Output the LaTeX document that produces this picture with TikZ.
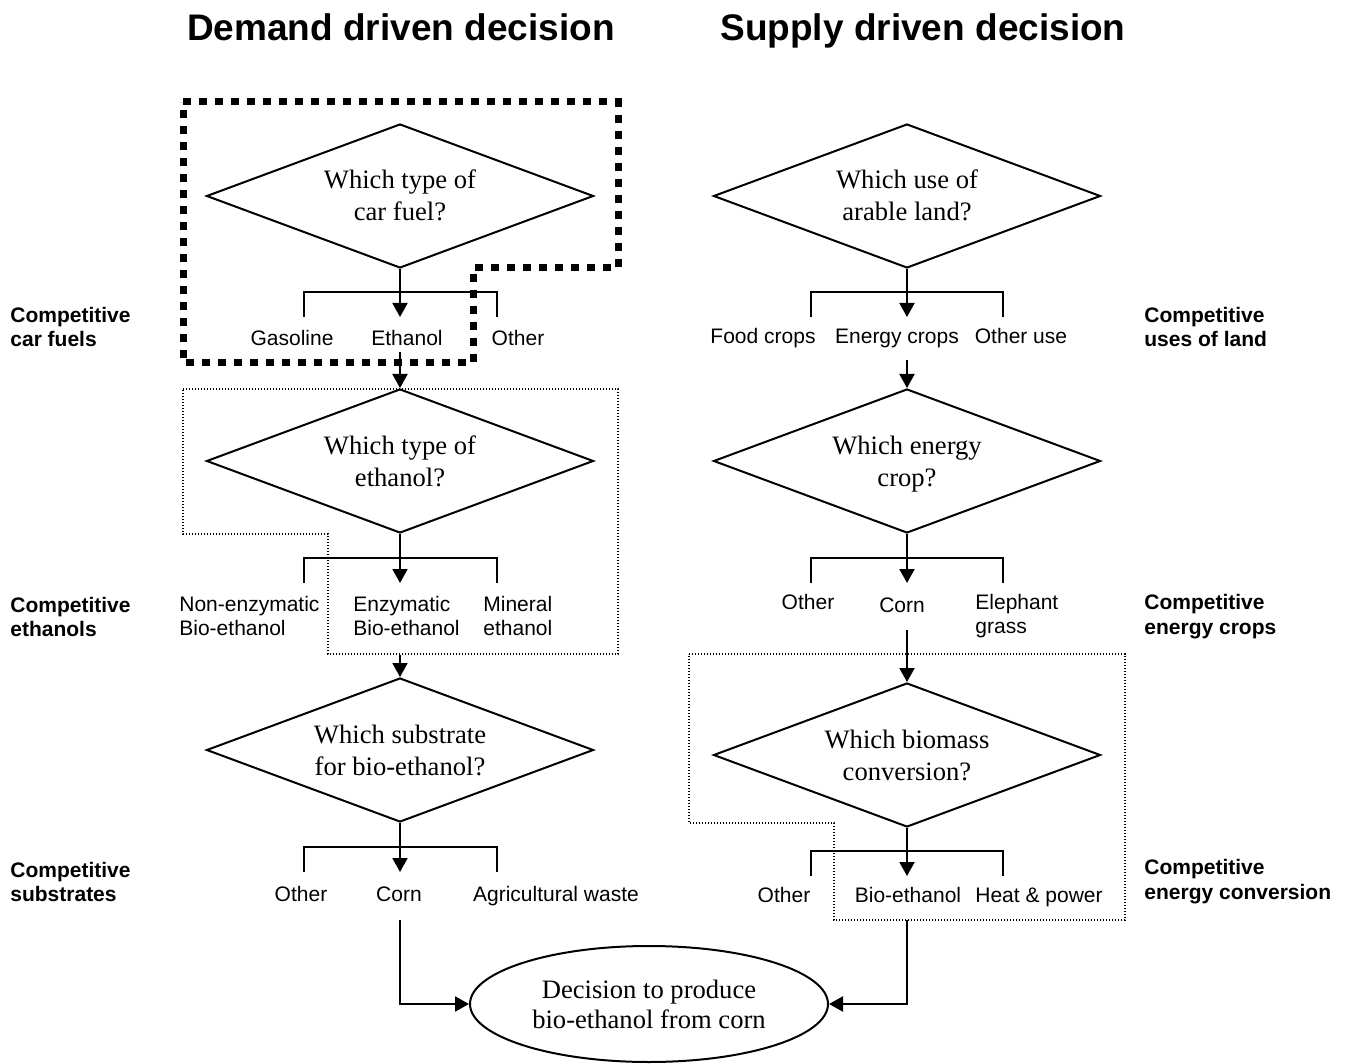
\documentclass[tikz,border=0pt]{standalone}
\usepackage{fontspec}
\setmainfont{Liberation Serif}
\setsansfont{Liberation Sans}
\usetikzlibrary{shapes.geometric,arrows.meta}

\tikzset{
  question/.style={diamond, draw, line width=1pt, minimum width=193.5pt, minimum height=72pt,
    shape aspect=2.69, inner sep=0pt, align=center, text height=25.2pt, text depth=0.2pt,
    font=\fontsize{13.3}{16}\selectfont},
  goal/.style={ellipse, draw, line width=1pt, minimum width=179pt, minimum height=58pt,
    inner sep=0pt, align=center, font=\fontsize{13.3}{15}\selectfont},
  option/.style={inner sep=0pt, align=left, font=\sffamily\fontsize{10.5}{11.6}\selectfont},
  choice/.style={option, text height=7.6pt, text depth=0pt},
  sidelabel/.style={inner sep=0pt, anchor=west, align=left, font=\sffamily\bfseries\fontsize{10.5}{12.4}\selectfont},
  heading/.style={inner sep=0pt, text height=13.4pt, text depth=0pt,
    font=\sffamily\bfseries\fontsize{18.5}{22}\selectfont},
  link/.style={line width=1pt},
  arr/.style={line width=1pt, -{Triangle[length=7pt,width=7.5pt]}},
  scopebox/.style={line width=3.5pt, dash pattern=on 4pt off 4pt},
  stagebox/.style={line width=0.7pt, dash pattern=on 0.7pt off 0.8pt},
}

\begin{document}
\begin{tikzpicture}[x=0.5pt,y=-0.5pt]
\useasboundingbox (0,0) rectangle (1350,1064);

% headings
\node[heading] (hA) at (401,27) {Demand driven decision};
\node[heading] (hB) at (923,27) {Supply driven decision};

% side labels
\node[sidelabel] (sA1) at (10,327) {Competitive\\car fuels};
\node[sidelabel] (sA2) at (10,617) {Competitive\\ethanols};
\node[sidelabel] (sA3) at (10,882) {Competitive\\substrates};
\node[sidelabel] (sB1) at (1144,327) {Competitive\\uses of land};
\node[sidelabel] (sB2) at (1144,617) {Competitive\\energy crops};
\node[sidelabel] (sB3) at (1144,882) {Competitive\\energy conversion};

% demand side questions
\node[question] (dA1) at (400,196) {Which type of\\car fuel?};
\node[question] (dA2) at (400,461) {Which type of\\ethanol?};
\node[question] (dA3) at (400,750) {Which substrate\\for bio-ethanol?};
% supply side questions
\node[question] (dB1) at (907,196) {Which use of\\arable land?};
\node[question] (dB2) at (907,461) {Which energy\\crop?};
\node[question] (dB3) at (907,755) {Which biomass\\conversion?};

% final decision
\node[goal] (fin) at (649,1004) {Decision to produce\\bio-ethanol from corn};

% options
\node[choice] (oA1a) at (292,338) {Gasoline};
\node[choice] (oA1b) at (407,338) {Ethanol};
\node[choice] (oA1c) at (518,338) {Other};
\node[option,anchor=west] (oA2a) at (179,616) {Non-enzymatic\\Bio-ethanol};
\node[option,anchor=west] (oA2b) at (353,616) {Enzymatic\\Bio-ethanol};
\node[option,anchor=west] (oA2c) at (483,616) {Mineral\\ethanol};
\node[choice] (oA3a) at (301,894) {Other};
\node[choice] (oA3b) at (399,894) {Corn};
\node[choice] (oA3c) at (556,894) {Agricultural waste};

\node[choice] (oB1a) at (763,336) {Food crops};
\node[choice] (oB1b) at (897,336) {Energy crops};
\node[choice] (oB1c) at (1021,336) {Other use};
\node[choice] (oB2a) at (808,602) {Other};
\node[choice] (oB2b) at (902,605) {Corn};
\node[option,anchor=west] (oB2c) at (975,616) {Elephant\\grass};
\node[choice] (oB3a) at (784,895) {Other};
\node[choice] (oB3b) at (908,895) {Bio-ethanol};
\node[choice] (oB3c) at (1039,895) {Heat \& power};

% fork bars
\coordinate (fA1l) at (304,292); \coordinate (fA1r) at (497,292);
\coordinate (fA2l) at (304,558); \coordinate (fA2r) at (497,558);
\coordinate (fA3l) at (304,847); \coordinate (fA3r) at (497,847);
\coordinate (fB1l) at (811,292); \coordinate (fB1r) at (1003,292);
\coordinate (fB2l) at (811,558); \coordinate (fB2r) at (1003,558);
\coordinate (fB3l) at (811,851); \coordinate (fB3r) at (1003,851);

\foreach \f in {A1,A2,A3,B1,B2,B3}{
  \draw[link] ([yshift=-12.5pt]f\f l) -- (f\f l) -- (f\f r) -- ([yshift=-12.5pt]f\f r);
}

% chosen branches
\draw[arr] (dA1.south) -- ([yshift=-24pt]dA1.south);
\draw[arr] (dA2.south) -- ([yshift=-24.5pt]dA2.south);
\draw[arr] (dA3.south) -- ([yshift=-24.5pt]dA3.south);
\draw[arr] (dB1.south) -- ([yshift=-24pt]dB1.south);
\draw[arr] (dB2.south) -- ([yshift=-24.5pt]dB2.south);
\draw[arr] (dB3.south) -- ([yshift=-24pt]dB3.south);

% links between stages
\draw[arr] (dA2.north |- 0,352) -- (dA2.north);
\draw[arr] (dA3.north |- 0,655) -- (dA3.north);
\draw[arr] (dB2.north |- 0,360) -- (dB2.north);
\draw[arr] (dB3.north |- 0,630) -- (dB3.north);

% into the final decision
\draw[arr] (dA3.south |- 0,920) |- (fin.west);
\draw[arr] (dB3.south |- 0,920) |- (fin.east);

% scope of the car fuel decision
\draw[scopebox] (183,102) -- (618,102) -- (618,268) -- (473,268) -- (473,363) -- (183,363) -- cycle;
% scope of the ethanol and conversion decisions
\draw[stagebox] (183,389) -- (618,389) -- (618,654) -- (328,654) -- (328,534) -- (183,534) -- cycle;
\draw[stagebox] (689,654) -- (1125,654) -- (1125,920) -- (834,920) -- (834,823) -- (689,823) -- cycle;
\end{tikzpicture}
\end{document}
